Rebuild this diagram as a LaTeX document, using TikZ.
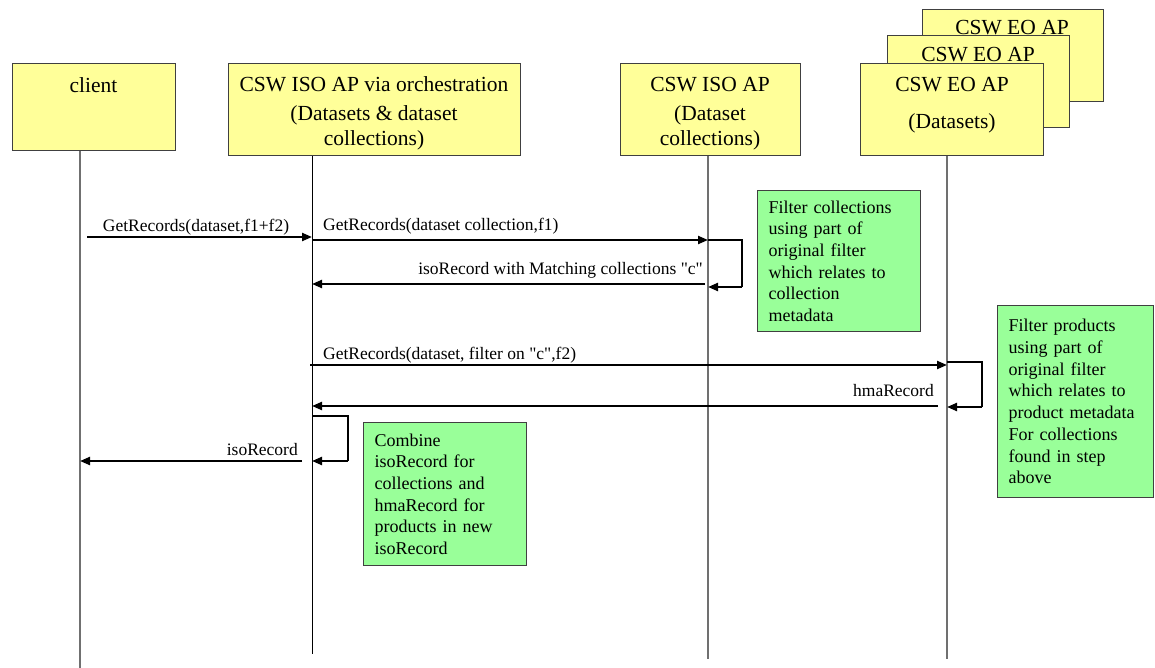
\documentclass[tikz,border=0pt]{standalone}
\usepackage{fontspec}
\setmainfont{Liberation Serif}
\newfontfamily\plainserif{Liberation Serif}[Ligatures=Common]
\usetikzlibrary{arrows.meta}
\definecolor{boxyellow}{HTML}{FFFF99}
\definecolor{notegreen}{HTML}{99FF99}
\definecolor{lifegray}{HTML}{707070}
\begin{document}
\begin{tikzpicture}[x=1pt,y=-1pt,
  actor/.style={draw=black!75,line width=1.2pt,fill=boxyellow,rectangle,inner sep=0pt,anchor=north west},
  title/.style={inner sep=0pt,align=center,font=\plainserif\fontsize{21.5pt}{25.5pt}\selectfont},
  note/.style={draw=black!75,line width=1.2pt,fill=notegreen,rectangle,anchor=north west,
    inner xsep=11pt,inner ysep=0pt,align=left,font=\plainserif\fontsize{18pt}{21.7pt}\selectfont},
  lbl/.style={inner sep=0pt,font=\plainserif\fontsize{17.5pt}{21pt}\selectfont},
  life/.style={draw=lifegray,line width=1.2pt},
  msg/.style={line width=2.2pt,-{Triangle[length=10pt,width=8pt]}},
  loopline/.style={line width=1.3pt},
]
\useasboundingbox (0,0) rectangle (1155,668);

% lifeline coordinates
\coordinate (clTop) at (80,150);
\coordinate (clEnd) at (80,668);
\coordinate (orTop) at (312,155);
\coordinate (orEnd) at (312,654);
\coordinate (isTop) at (708,155);
\coordinate (isEnd) at (708,659);
\coordinate (eoTop) at (947,155);
\coordinate (eoEnd) at (947,659);

% lifelines
\draw[life] (clTop) -- (clEnd);
\draw[line width=1pt] (orTop) -- (orEnd);
\draw[life] (isTop) -- (isEnd);
\draw[life] (eoTop) -- (eoEnd);

% actor boxes
\node[actor,minimum width=163pt,minimum height=87pt] (client) at (12,63) {};
\node[title] (clientT) at (93.5,85) {client};

\node[actor,minimum width=292pt,minimum height=92pt] (orch) at (228,63) {};
\node[title] (orchT1) at (374,84) {CSW ISO AP via orchestration};
\node[title] (orchT2) at (374,128) {(Datasets \& dataset\\collections)};

\node[actor,minimum width=180pt,minimum height=92pt] (iso) at (620,63) {};
\node[title] (isoT1) at (710,85) {CSW ISO AP};
\node[title] (isoT2) at (710,128) {(Dataset\\collections)};

\node[actor,minimum width=181pt,minimum height=92pt] (eoBack) at (922,9) {};
\node[title] (eoBackT) at (1012,28) {CSW EO AP};
\node[actor,minimum width=182pt,minimum height=92pt] (eoMid) at (887,35) {};
\node[title] (eoMidT) at (978,55) {CSW EO AP};
\node[actor,minimum width=183pt,minimum height=92pt] (eoFront) at (860,63) {};
\node[title] (eoFrontT1) at (952,85) {CSW EO AP};
\node[title] (eoFrontT2) at (952,123) {(Datasets)};

% message anchor coordinates
\coordinate (m1s) at (87,237);   \coordinate (m1e) at (312,237);
\coordinate (m2s) at (312,240);  \coordinate (m2e) at (708,240);
\coordinate (l1a) at (742,240);  \coordinate (l1b) at (742,287); \coordinate (l1e) at (708,287);
\coordinate (m3s) at (705,284);  \coordinate (m3e) at (312,284);
\coordinate (m4s) at (310,365);  \coordinate (m4e) at (947,365);
\coordinate (l2s) at (947,362);  \coordinate (l2a) at (982,362); \coordinate (l2b) at (982,407); \coordinate (l2e) at (947,407);
\coordinate (m5s) at (938,406);  \coordinate (m5e) at (312,406);
\coordinate (l3s) at (312,416);  \coordinate (l3a) at (348,416); \coordinate (l3b) at (348,461); \coordinate (l3e) at (312,461);
\coordinate (m6s) at (302,461);  \coordinate (m6e) at (80,461);

% messages
\draw[msg] (m1s) -- (m1e);
\node[lbl,anchor=base] (m1l) at (196,232) {GetRecords(dataset,f1+f2)};

\draw[msg] (m2s) -- (m2e);
\node[lbl,anchor=base west] (m2l) at (323,230) {GetRecords(dataset collection,f1)};

\draw[loopline] (m2e) -- (l1a) -- (l1b);
\draw[msg] (l1b) -- (l1e);

\draw[msg] (m3s) -- (m3e);
\node[lbl,anchor=base east] (m3l) at (703,274) {isoRecord with Matching collections "c"};

\draw[msg] (m4s) -- (m4e);
\node[lbl,anchor=base west] (m4l) at (323,359) {GetRecords(dataset, filter on "c",f2)};

\draw[loopline] (l2s) -- (l2a) -- (l2b);
\draw[msg] (l2b) -- (l2e);

\draw[msg] (m5s) -- (m5e);
\node[lbl,anchor=base east] (m5l) at (934,396) {hmaRecord};

\draw[loopline] (l3s) -- (l3a) -- (l3b);
\draw[msg] (l3b) -- (l3e);

\draw[msg] (m6s) -- (m6e);
\node[lbl,anchor=base east] (m6l) at (298,455) {isoRecord};

% notes
\node[note,minimum width=163pt,minimum height=141pt,text width=141pt] (note1) at (757,190)
  {Filter collections\\using part of\\original filter\\which relates to\\collection\\metadata};
\node[note,minimum width=156pt,minimum height=192pt,text width=134pt] (note2) at (997,305)
  {Filter products\\using part of\\original filter\\which relates to\\product metadata\\For collections\\found in step\\above};
\node[note,minimum width=163pt,minimum height=143pt,text width=141pt] (note3) at (363,422)
  {Combine\\isoRecord for\\collections and\\hmaRecord for\\products in new\\isoRecord};
\end{tikzpicture}
\end{document}
